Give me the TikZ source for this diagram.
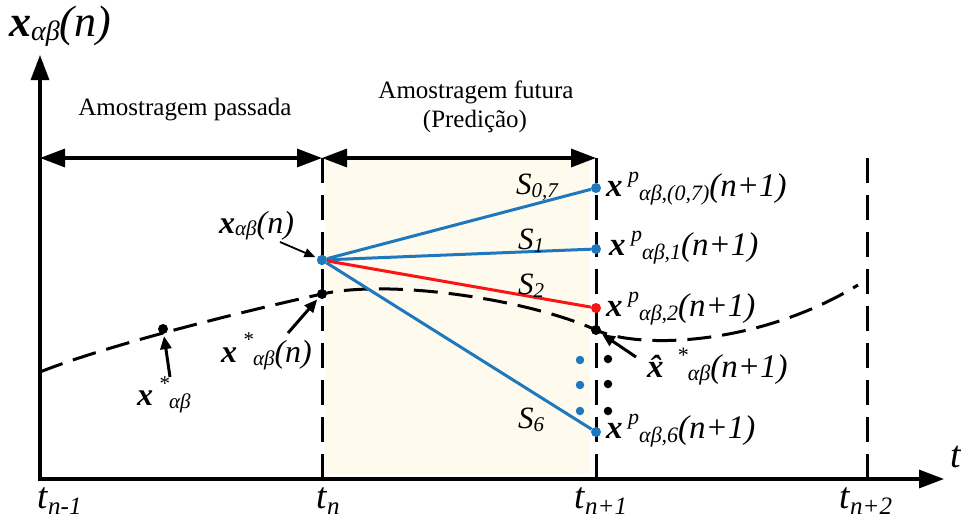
\documentclass[tikz,border=0pt]{standalone}
\usepackage{fontspec}
\setmainfont{Liberation Serif}
\usetikzlibrary{arrows.meta}
\definecolor{pblue}{RGB}{31,119,190}
\definecolor{pred}{RGB}{250,20,20}
\definecolor{pshade}{RGB}{254,251,238}
\newcommand{\xb}{\textbf{\textit{x}}}
\newcommand{\Lo}[3][0.12em]{\raisebox{-#1}{\fontsize{#2}{#2}\selectfont\itshape #3}}
\newcommand{\Hi}[3][0.42em]{\raisebox{#1}{\fontsize{#2}{#2}\selectfont\itshape #3}}
\newcommand{\Fs}[1]{\fontsize{#1}{#1}\selectfont}
\begin{document}
\begin{tikzpicture}[x=1pt,y=-1pt,
  axis/.style={line width=3.2pt},
  bigtips/.style={{Triangle[length=25pt,width=18pt]}-{Triangle[length=25pt,width=18pt]}},
  vdash/.style={line width=3pt, dash pattern=on 25pt off 12pt},
  cdash/.style={line width=3pt, dash pattern=on 24pt off 11pt},
  ptr/.style={line width=3pt, -{Triangle[length=13pt,width=11pt]}, shorten >=2pt},
  thinptr/.style={line width=1.8pt, -{Triangle[length=11pt,width=9pt]}, shorten >=2pt},
  bline/.style={line width=3pt, draw=pblue},
  rline/.style={line width=3pt, draw=pred},
  lbl/.style={inner sep=0pt, anchor=base west},
  txt/.style={inner sep=0pt, anchor=base},
  bdot/.style={circle, fill=pblue, inner sep=0pt, minimum size=10pt},
  rdot/.style={circle, fill=pred, inner sep=0pt, minimum size=10pt},
  kdot/.style={circle, fill=black, inner sep=0pt, minimum size=10pt},
  sbdot/.style={circle, fill=pblue, inner sep=0pt, minimum size=8.5pt},
  skdot/.style={circle, fill=black, inner sep=0pt, minimum size=8.5pt}
]
\useasboundingbox (0,0) rectangle (961,527);
% shaded prediction region
\fill[pshade] (326,160) rectangle (590,474);

% dashed reference curve
\draw[cdash] (40,372) .. controls (110,344) and (250,309.8) .. (322,294)
  .. controls (392,278.6) and (530,300) .. (596,330)
  .. controls (640,350) and (760,345) .. (858,285);

% coordinates
\coordinate (O) at (40,479);
\coordinate (Ytop) at (40,55);
\coordinate (Xend) at (944,479);
\coordinate (A1) at (40,158);
\coordinate (A2) at (322,158);
\coordinate (A3) at (596,158);
\coordinate (V1t) at (322,158);
\coordinate (V1b) at (322,485);
\coordinate (V2t) at (596,158);
\coordinate (V2b) at (596,485);
\coordinate (V3t) at (867,158);
\coordinate (V3b) at (867,485);

% vertical dashed lines
\draw[vdash] (V1t) -- (V1b);
\draw[vdash] (V2t) -- (V2b);
\draw[vdash] (V3t) -- (V3b);

% axes
\draw[axis, bigtips] (Ytop) -- (O) -- (Xend);
% top interval arrows
\draw[axis, bigtips] (A1) -- (A2);
\draw[axis, bigtips] (A2) -- (A3);

% points
\node[bdot] (P0) at (322,260) {};
\node[bdot] (P07) at (596,188) {};
\node[bdot] (P1) at (596,249) {};
\node[rdot] (P2) at (596,308) {};
\node[bdot] (P6) at (596,432) {};
\node[kdot] (Ka) at (163,329) {};
\node[kdot] (Kb) at (322,294) {};
\node[kdot] (Kc) at (596,330) {};

\node[sbdot] (d1) at (580,360) {};
\node[sbdot] (d2) at (580,385) {};
\node[sbdot] (d3) at (580,411) {};
\node[skdot] (e1) at (608,359) {};
\node[skdot] (e2) at (608,384) {};
\node[skdot] (e3) at (608,411) {};

% prediction lines
\draw[bline] (P0) -- (P07);
\draw[bline] (P0) -- (P1);
\draw[rline] (P0) -- (P2);
\draw[bline] (P0) -- (P6);
\node[bdot] at (P0) {};

% labels
\node[lbl] (Ly) at (9,37) {\Fs{44}\xb\Lo[0.08em]{28}{αβ}\textit{(n)}};
\node[txt] (T1) at (185,115) {\Fs{25}Amostragem passada};
\node[txt] (T2) at (476,99) {\Fs{25}Amostragem futura};
\node[txt] (T3) at (475,127) {\Fs{25}(Predição)};

\node[lbl] (Lxn) at (219,233) {\Fs{32}\xb\Lo[0.08em]{21}{αβ}\textit{(n)}};
\node[lbl] (Lxsn) at (221,362) {\Fs{32}\xb\,\Hi[0.47em]{21}{*}\Lo[0.1em]{21}{αβ}\textit{(n)}};
\node[lbl] (Lxs) at (137,405) {\Fs{32}\xb\,\Hi[0.45em]{21}{*}\Lo[0.1em]{21}{αβ}};
\node[lbl] (Lxh) at (647,377) {\Fs{33}\textbf{\textit{\^x}}\,\Hi[0.45em]{22}{*}\Lo[0.1em]{22}{αβ}\textit{(n+1)}};

\node[lbl] (L07) at (606,196) {\Fs{33}\xb\,\Hi{22}{p}\Lo[0.15em]{22}{αβ,(0,7)}\textit{(n+1)}};
\node[lbl] (L1) at (609,255) {\Fs{33}\xb\,\Hi{22}{p}\Lo[0.15em]{22}{αβ,1}\textit{(n+1)}};
\node[lbl] (L2) at (606,316) {\Fs{33}\xb\,\Hi{22}{p}\Lo[0.15em]{22}{αβ,2}\textit{(n+1)}};
\node[lbl] (L6) at (606,438) {\Fs{33}\xb\,\Hi{22}{p}\Lo[0.15em]{22}{αβ,6}\textit{(n+1)}};

\node[lbl] (S07) at (516,194) {\Fs{31}\textit{S}\Lo[0.1em]{21}{0,7}};
\node[lbl] (S1) at (518,249) {\Fs{31}\textit{S}\Lo[0.1em]{21}{1}};
\node[lbl] (S2) at (518,294) {\Fs{31}\textit{S}\Lo[0.1em]{21}{2}};
\node[lbl] (S6) at (518,428) {\Fs{31}\textit{S}\Lo[0.1em]{21}{6}};

\node[lbl] (tn1) at (37,508) {\Fs{37}\textit{t}\Lo[0.18em]{25}{n-1}};
\node[lbl] (tn) at (316,508) {\Fs{37}\textit{t}\Lo[0.18em]{25}{n}};
\node[lbl] (tn2) at (574,508) {\Fs{37}\textit{t}\Lo[0.18em]{25}{n+1}};
\node[lbl] (tn3) at (839,508) {\Fs{37}\textit{t}\Lo[0.18em]{25}{n+2}};
\node[lbl] (tax) at (950,467) {\Fs{38}\textit{t}};

% pointer arrows
\coordinate (a1) at (280,242);
\coordinate (a2) at (288,333);
\coordinate (a3) at (170,377);
\coordinate (a4) at (636,357);
\draw[thinptr] (a1) -- (P0);
\draw[ptr] (a2) -- (Kb);
\draw[ptr] (a3) -- (Ka);
\draw[ptr] (a4) -- (Kc);
\end{tikzpicture}
\end{document}
